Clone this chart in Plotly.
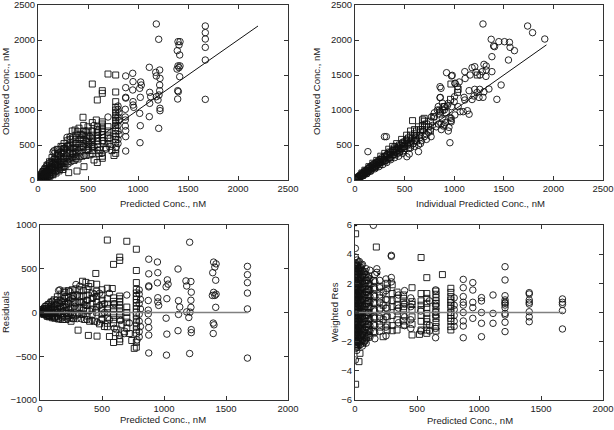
import plotly.graph_objects as go

# ---------------- DATA ----------------
# Panel 1 (and 3): population predicted conc (nM) vs observed conc (nM)
p1_squares = [
    (700,1514),(777,1500),(543,1371),(643,1276),(643,1238),(593,1143),(777,1257),(777,1119),
    (777,1040),(777,1000),(777,960),(777,925),(777,890),(777,850),(777,815),(777,780),(777,745),
    (777,700),(777,660),(777,620),(777,580),(777,540),(777,438),(777,381),(450,896),(583,857),
    (700,762),(700,700),(700,640),(700,590),(700,520),(643,830),(643,800),(643,770),(643,730),
    (643,690),(643,650),(643,610),(643,560),(643,340),(643,310),(593,760),(593,720),(593,680),
    (593,640),(593,600),(593,560),(593,510),(593,470),(593,250),(560,286),(543,820),(543,700),
    (543,640),(543,590),(543,540),(543,480),(543,420),(543,380),(500,760),(500,700),(500,640),
    (500,590),(500,540),(500,480),(500,420),(460,190),(457,780),(457,700),(457,640),(457,580),
    (457,520),(457,460),(410,740),(393,690),(370,714),(343,700),(420,640),(420,580),(420,520),
    (420,460),(420,400),(380,640),(380,580),(380,520),(380,460),(380,400),(380,340),(350,600),
    (350,540),(350,470),(350,400),(350,330),(320,580),(320,500),(320,440),(320,380),(320,300),
    (307,105),(390,128),(290,560),(290,480),(290,400),(290,330),(290,260),(260,520),(260,450),
    (260,380),(260,310),(260,240),(230,480),(230,400),(230,330),(230,260),(230,190),(200,430),
    (200,360),(200,290),(200,220),(200,160),(193,438),(170,380),(170,300),(170,240),(170,180),
    (170,130),(140,320),(140,250),(140,190),(140,140),(140,100),(115,260),(115,200),(115,150),
    (115,110),(115,70),(90,210),(90,160),(90,120),(90,80),(90,50),(70,160),(70,120),(70,90),
    (70,60),(70,35),(50,120),(50,90),(50,60),(50,40),(50,20),(35,80),(35,55),(35,35),(35,20),
    (20,50),(20,30),(20,15),(10,25),(10,10),(5,5),(720,480),(740,420),(760,350),(680,460),
    (620,430),(610,380),(660,520),(520,360),(480,350),(440,340),(400,300),(360,280),(250,150),
    (210,130),(180,100),(150,75),(120,55),(100,40),(75,25),(60,15),(30,8),(270,200),(240,180),
]
p1_circles = [
    (1183,2229),(1207,2010),(1673,2200),(1673,2105),(1673,2014),(1673,1895),(1673,1714),
    (1673,1152),(1400,1976),(1420,1976),(1410,1929),(1393,1848),(1417,1786),(1400,1630),
    (1420,1630),(1410,1605),(1390,1585),(1417,1476),(1397,1276),(1403,1262),(1397,1157),
    (1113,1610),(1183,1486),(1177,1538),(1217,1571),(1220,1452),(1217,1357),(1217,1276),
    (1210,1214),(1183,1190),(1200,1143),(1117,1252),(1127,1190),(1117,1095),(1220,1024),
    (1220,990),(1113,905),(1207,738),(1017,1310),(1027,1400),(1033,1357),(1023,1181),
    (1017,952),(1023,776),(1020,533),(947,1524),(950,1405),(947,1286),(950,1119),(950,1071),
    (957,1038),(877,1486),(877,1319),(877,1181),(877,1170),(873,1010),(873,900),(873,857),
    (873,771),(877,705),(877,619),(877,414),(800,1057),(800,1010),(810,960),(800,900),
    (810,850),(800,780),(800,700),(810,650),(800,580),(800,520),(783,470),
    (720,600),(700,900),(680,440),(650,560),(640,380),(600,700),(600,420),(560,780),(560,480),
    (520,620),(520,520),(500,430),(480,700),(480,560),(460,350),(450,480),(440,650),(430,600),
    (420,330),(400,420),(380,520),(380,300),(360,450),(350,380),(340,320),(330,450),(320,620),
    (310,300),(300,500),(290,610),(280,350),(260,420),(250,250),(250,300),(240,480),(230,220),
    (220,340),(210,200),(210,270),(200,380),(190,250),(190,200),(180,300),(170,150),(170,220),
    (160,419),(160,260),(150,400),(150,130),(140,180),(130,220),(130,150),(120,150),(110,100),
    (110,170),(100,130),(100,70),(90,90),(90,140),(80,110),(75,80),(70,60),(65,100),(60,80),
    (55,55),(50,40),(45,60),(40,50),(35,25),(30,35),(25,40),(20,15),(15,20),(10,8),(5,12),
    (3,3),(60,30),(80,40),(120,60),(150,80),(180,120),(220,150),(260,190),(300,230),(330,260),
    (270,460),(240,380),(200,330),(160,300),(130,270),(100,230),(80,190),(60,150),(40,110),
    (30,70),(25,15),(45,25),(15,45),(8,20),(0,0),(0,30),
]

# Panel 2: individual predicted conc (nM) vs observed conc (nM)
p2_squares = [
    (1233,1500),(967,1371),(963,1152),(1033,1252),(1040,1295),(790,905),(580,848),(697,881),
    (680,860),(700,840),(857,943),(640,760),(660,720),(620,700),(600,660),(560,640),(540,600),
    (520,560),(500,540),(480,520),(450,500),(430,470),(400,440),(380,420),(350,400),(330,360),
    (300,330),(280,300),(260,290),(240,260),(220,240),(200,220),(180,200),(160,180),(140,160),
    (120,130),(100,110),(80,90),(60,70),(40,45),(20,25),(10,10),(700,760),(720,800),(680,780),
    (650,640),(610,600),(570,560),(530,520),(490,480),(460,450),(420,420),(390,390),(360,360),
    (320,330),(290,280),(250,250),(210,200),(170,170),(130,120),(90,85),(50,50),(30,30),
    (600,720),(560,700),(520,640),(470,580),(420,520),(380,480),(340,440),(300,380),(260,340),
    (220,280),(180,240),(140,190),(100,140),(70,100),(450,400),(400,360),(350,320),(300,270),
    (250,220),(200,180),(150,130),(110,95),(75,65),(620,560),(560,500),(500,450),(680,720),
    (740,760),(760,840),(760,700),(880,1000),(900,1050),(920,960),
]
p2_circles = [
    (1290,2229),(1740,2200),(1790,2105),(1913,2014),(1373,2010),(1450,1976),(1507,1976),
    (1557,1967),(1397,1914),(1407,1905),(1563,1895),(1607,1848),(1380,1762),(1547,1714),
    (1300,1652),(1323,1629),(1323,1571),(1283,1548),(1380,1548),(1180,1605),(1207,1619),
    (1107,1548),(923,1533),(980,1495),(1473,1357),(1430,1152),(1290,1181),(1150,1276),
    (1207,1295),(1257,1295),(1003,1190),(1040,1048),(1107,1143),(957,533),(850,1000),
    (857,1176),(867,1310),(957,895),(967,848),(947,752),(900,786),(1007,929),(640,405),
    (523,333),(297,619),(316,619),(130,405),
    (760,720),(740,680),(720,650),(700,620),(690,700),(670,560),(650,600),(620,640),(600,560),
    (590,520),(580,600),(560,460),(550,540),(547,371),(530,500),(520,580),(500,480),(490,420),
    (480,540),(470,440),(460,500),(450,400),(440,470),(430,380),(420,450),(410,400),(400,480),
    (390,360),(380,420),(370,340),(360,400),(350,310),(340,380),(330,300),(320,360),(310,280),
    (300,340),(290,300),(280,260),(270,320),(260,250),(250,290),(240,230),(230,270),(220,210),
    (210,250),(200,190),(190,230),(180,170),(170,210),(160,150),(150,190),(140,140),(130,160),
    (120,110),(110,140),(100,90),(90,120),(80,70),(70,90),(60,55),(50,70),(40,35),(30,45),
    (20,15),(10,20),(5,5),(0,0),(800,900),(820,760),(840,800),(830,1000),(870,720),(880,880),
    (910,820),(940,700),(860,1180),(1060,976),(1090,976),(1133,990),(1150,940),(1100,1180),
    (1200,1200),(1230,1250),(1180,1150),(1250,1180),(1300,1260),(1320,1480),(1350,1300),
    (1050,1400),(1010,1381),(1033,1333),(1110,1450),(1160,1500),(1220,1540),(1260,1500),
    (1000,1120),(930,1060),(880,1100),(840,1050),(800,960),(770,900),(780,780),(720,580),
    (660,520),(600,480),(540,450),(480,380),(440,340),(400,320),(360,290),(320,250),(280,220),
    (240,190),(200,160),(160,130),(120,90),(80,60),(940,1095),(973,1048),(900,1048),(900,1000),
    (970,830),(970,880),(857,976),(867,800),(890,771),(767,619),(640,500),(1007,1381),
    (973,1486),(857,1333),
]

# Panel 4: predicted conc (nM) vs weighted residuals, grouped by predicted-conc column
p4_square_cols = [
    (0, [3.1, 2.7, 2.3, 1.9, 1.5, 1.1, 0.7, 0.3, -0.1, -0.5, -0.9, -1.3, -1.7, -2.1]),
    (5, [5.4, 3.3, 2.9, 2.5, 2.1, 1.7, 1.3, 0.9, 0.5, 0.1, -0.3, -0.7, -1.1, -1.5, -1.9, -2.3, -4.92]),
    (18, [3.2, 2.8, 2.4, 2.0, 1.6, 1.2, 0.8, 0.4, 0.0, -0.4, -0.8, -1.2, -1.6, -2.0]),
    (25, [3.4, 3.0, 2.6, 2.2, 1.8, 1.4, 1.0, 0.6, 0.2, -0.2, -0.6, -1.0, -1.4, -1.8, -2.2]),
    (32, [-3.37]), (40, [-2.8, 2.9, 2.1, 1.3, 0.5, -0.3, -1.1, -1.9]),
    (50, [3.2, 2.8, 2.4, 2.0, 1.6, 1.2, 0.8, 0.4, 0.0, -0.4, -0.8, -1.2, -1.6, -2.0]),
    (65, [2.6, 1.8, 1.0, 0.2, -0.6, -1.4, -2.1]),
    (80, [2.8, 2.4, 2.0, 1.6, 1.2, 0.8, 0.4, 0.0, -0.4, -0.8, -1.2, -1.6, -1.9]),
    (95, [2.2, 1.4, 0.6, -0.2, -1.0, -1.7]),
    (110, [2.5, 2.0, 1.6, 1.2, 0.8, 0.4, 0.0, -0.4, -0.8, -1.2, -1.6]),
    (150, [2.2, 1.7, 1.2, 0.7, 0.2, -0.3, -0.8, -1.3]),
    (172, [4.49]),
    (200, [1.8, 1.0, 0.3, -0.4, -1.0]),
    (227, [1.4, 0.5, -0.5, -1.66]),
    (260, [2.0, 1.66, 0.86, 0.3, -0.3, -0.86, -1.2]),
    (300, [1.9, 1.3, 0.8, 0.4, -0.2, -0.9, -1.25]),
    (339, [1.4, 0.97, 0.5, 0.1, -0.5, -1.2]),
    (392, [1.2, 0.97, 0.7, 0.4, 0.17, -0.17, -0.58, -0.86]),
    (460, [1.7, 0.74, 0.55, 0.2, -0.3, -0.8, -1.54]),
    (520, [-1.5]),
    (533, [3.77, 1.3, 0.8, 0.5, 0.2, -0.2, -0.6, -1.2]),
    (579, [2.39, 1.3, 0.97, 0.63, 0.33, -0.06, -0.4, -0.63, -0.86, -1.2, -1.43]),
    (653, [1.47, 1.25, 1.02, 0.8, 0.63, 0.4, 0.1, -0.17, -0.4, -0.68, -0.97, -1.27]),
    (705, [2.6]),
    (773, [1.66, 1.38, 1.09, 0.86, 0.7, 0.5, 0.3, 0.0, -0.2, -0.4, -0.6, -0.97, -1.2]),
]
p4_circle_cols = [
    (3, [4.4, 3.8, 3.4, 3.0, 2.6, 2.2, 1.8, 1.4, 1.0, 0.6, 0.2, -0.2, -0.6, -1.0, -1.4, -1.8, -2.2, -2.46, -3.26]),
    (8, [3.2, 2.8, 2.4, 2.0, 1.6, 1.2, 0.8, 0.4, 0.0, -0.4, -0.8, -1.2, -1.6, -2.0, -2.3]),
    (15, [3.6, 3.2, 2.8, 2.4, 2.0, 1.6, 1.2, 0.8, 0.4, 0.0, -0.4, -0.8, -1.2, -1.6, -2.0, -2.4, -2.6]),
    (28, [3.0, 2.2, 1.4, 0.6, -0.2, -1.0, -1.8]),
    (35, [3.5, 3.1, 2.7, 2.3, 1.9, 1.5, 1.1, 0.7, 0.3, -0.1, -0.5, -0.9, -1.3, -1.7, -2.1]),
    (45, [3.1, 2.3, 1.5, 0.7, -0.1, -0.9, -1.7, -2.2]),
    (60, [3.3, 2.9, 2.5, 2.1, 1.7, 1.3, 0.9, 0.5, 0.1, -0.3, -0.7, -1.1, -1.5, -1.9, -2.3]),
    (75, [2.7, 1.9, 1.1, 0.3, -0.5, -1.3, -2.0]),
    (90, [3.0, 2.6, 2.2, 1.8, 1.4, 1.0, 0.6, 0.2, -0.2, -0.6, -1.0, -1.4, -1.8, -2.1]),
    (105, [2.4, 1.6, 0.8, 0.0, -0.8, -1.5]),
    (120, [2.9, 2.3, 1.9, 1.5, 1.1, 0.7, 0.3, -0.1, -0.5, -0.9, -1.3, -1.7]),
    (148, [5.98]),
    (160, [2.6, 2.1, 1.6, 1.1, 0.6, 0.1, -0.4, -0.9, -1.4, -1.8]),
    (176, [3.0, 2.75]),
    (200, [2.2, 1.7, 1.2, 0.7, 0.2, -0.3, -0.8, -1.3]),
    (250, [2.3, 1.5, 0.9, 0.3, -0.3, -1.0, -1.6]),
    (293, [3.92, 3.85, 2.4, 2.1]),
    (350, [1.2, 0.3, -0.7]),
    (400, [1.5, 0.6, -0.3, -0.9]),
    (450, [1.0, 0.4, -0.5, -1.1]),
    (530, [0.1, -1.27]),
    (600, [0.8, -0.86, -1.27]),
    (650, [1.55, 0.5, 0.05, -0.2, -1.09, -1.73]),
    (800, [1.0, 0.5, 0.2, -0.2, -0.6, -0.95]),
    (873, [2.27, 1.7, 1.09, 0.7, 0.51, 0.0, -0.58, -0.93, -1.73]),
    (950, [2.05, 1.54, 0.7, 0.33, -0.4]),
    (1020, [1.02, 0.79, 0.0, -0.74, -1.66]),
    (1113, [1.2, -0.06, -0.74]),
    (1210, [3.14, 2.23, 1.15, 0.86, 0.63, 0.7, 0.51, 0.33, -0.06, -0.17, -0.67, -1.31]),
    (1405, [1.36, 1.27, 0.86, 0.7, 0.58, 0.05, -0.3, -0.63]),
    (1673, [0.93, 0.7, 0.56, 0.13, -1.13]),
]
p4_dots = [(193, 2.66), (8, 6.0)]

identity_end_p1 = 2200
identity_end_p2 = 1930
zero_line_end = 1680

# ---------------- FIGURE ----------------
def unzip(pairs):
    return [p[0] for p in pairs], [p[1] for p in pairs]

def expand(cols):
    xs, ys = [], []
    for x, vals in cols:
        for v in vals:
            xs.append(x)
            ys.append(v)
    return xs, ys

BLACK = "#111111"
circ = dict(symbol="circle-open", size=6.5, color=BLACK, line=dict(width=0.9, color=BLACK))
sq = dict(symbol="square-open", size=6, color=BLACK, line=dict(width=0.9, color=BLACK))

fig = go.Figure()

# panel 1
x, y = unzip(p1_squares)
fig.add_trace(go.Scatter(x=x, y=y, mode="markers", marker=sq, xaxis="x", yaxis="y"))
x, y = unzip(p1_circles)
fig.add_trace(go.Scatter(x=x, y=y, mode="markers", marker=circ, xaxis="x", yaxis="y"))
fig.add_trace(go.Scatter(x=[0, identity_end_p1], y=[0, identity_end_p1], mode="lines",
                         line=dict(color=BLACK, width=1), xaxis="x", yaxis="y"))

# panel 2
x, y = unzip(p2_squares)
fig.add_trace(go.Scatter(x=x, y=y, mode="markers", marker=sq, xaxis="x2", yaxis="y2"))
x, y = unzip(p2_circles)
fig.add_trace(go.Scatter(x=x, y=y, mode="markers", marker=circ, xaxis="x2", yaxis="y2"))
fig.add_trace(go.Scatter(x=[0, identity_end_p2], y=[0, identity_end_p2], mode="lines",
                         line=dict(color=BLACK, width=1), xaxis="x2", yaxis="y2"))

# panel 3 : residuals = observed - predicted
fig.add_trace(go.Scatter(x=[p for p, o in p1_squares], y=[o - p for p, o in p1_squares],
                         mode="markers", marker=sq, xaxis="x3", yaxis="y3"))
fig.add_trace(go.Scatter(x=[p for p, o in p1_circles], y=[o - p for p, o in p1_circles],
                         mode="markers", marker=circ, xaxis="x3", yaxis="y3"))
fig.add_trace(go.Scatter(x=[0, zero_line_end], y=[0, 0], mode="lines",
                         line=dict(color="#808080", width=1.5), xaxis="x3", yaxis="y3"))

# panel 4
x, y = expand(p4_square_cols)
fig.add_trace(go.Scatter(x=x, y=y, mode="markers", marker=sq, xaxis="x4", yaxis="y4"))
x, y = expand(p4_circle_cols)
fig.add_trace(go.Scatter(x=x, y=y, mode="markers", marker=circ, xaxis="x4", yaxis="y4"))
x, y = unzip(p4_dots)
fig.add_trace(go.Scatter(x=x, y=y, mode="markers", marker=dict(symbol="circle", size=2.5, color=BLACK),
                         xaxis="x4", yaxis="y4"))
fig.add_trace(go.Scatter(x=[0, zero_line_end], y=[0, 0], mode="lines",
                         line=dict(color="#808080", width=1.5), xaxis="x4", yaxis="y4"))

W, H = 614, 430
def px_x(a, b):
    return [a / W, b / W]
def px_y(top, bottom):
    return [1 - bottom / H, 1 - top / H]

tickfont = dict(family="Arial, Liberation Sans, sans-serif", size=9.5, color="#222222")
def ax(domain, rng, dtick, anchor):
    return dict(domain=domain, range=rng, dtick=dtick, tick0=rng[0], anchor=anchor,
                automargin=False, showgrid=False, zeroline=False, showline=True,
                linecolor="#333333", linewidth=1, mirror="ticks", ticks="inside",
                ticklen=4, tickcolor="#333333", tickfont=tickfont, fixedrange=True,
                ticklabeloverflow="allow")

fig.update_layout(
    template="none",
    width=W, height=H, margin=dict(l=0, r=0, t=0, b=0, autoexpand=False),
    paper_bgcolor="white", plot_bgcolor="white", showlegend=False,
    xaxis=ax(px_x(38, 288), [0, 2500], 500, "y"),
    yaxis=ax(px_y(5, 180), [0, 2500], 500, "x"),
    xaxis2=ax(px_x(355, 603), [0, 2500], 500, "y2"),
    yaxis2=ax(px_y(5, 180), [0, 2500], 500, "x2"),
    xaxis3=ax(px_x(40, 288), [0, 2000], 500, "y3"),
    yaxis3=ax(px_y(225, 400), [-1000, 1000], 500, "x3"),
    xaxis4=ax(px_x(355, 603), [0, 2000], 500, "y4"),
    yaxis4=ax(px_y(225, 400), [-6, 6], 2, "x4"),
)

titlefont = dict(family="Arial, Liberation Sans, sans-serif", size=9.5, color="#222222")
def note(text, xpx, ypx, angle=0):
    fig.add_annotation(text=text, x=xpx / W, y=1 - ypx / H, xref="paper", yref="paper",
                       showarrow=False, textangle=angle, font=titlefont,
                       xanchor="center", yanchor="middle")

note("Predicted Conc., nM", 163, 203)
note("Observed Conc., nM", 5, 92, -90)
note("Individual Predicted Conc., nM", 480, 203)
note("Observed Conc., nM", 316, 92, -90)
note("Predicted Conc., nM", 163, 419)
note("Residuals", 5, 312, -90)
note("Predicted Conc., nM", 470, 420)
note("Weighted Res", 334, 312, -90)

fig.write_html("out.html", config={"displayModeBar": False},
               post_script="document.body.style.margin='0';document.body.style.overflow='hidden';")
